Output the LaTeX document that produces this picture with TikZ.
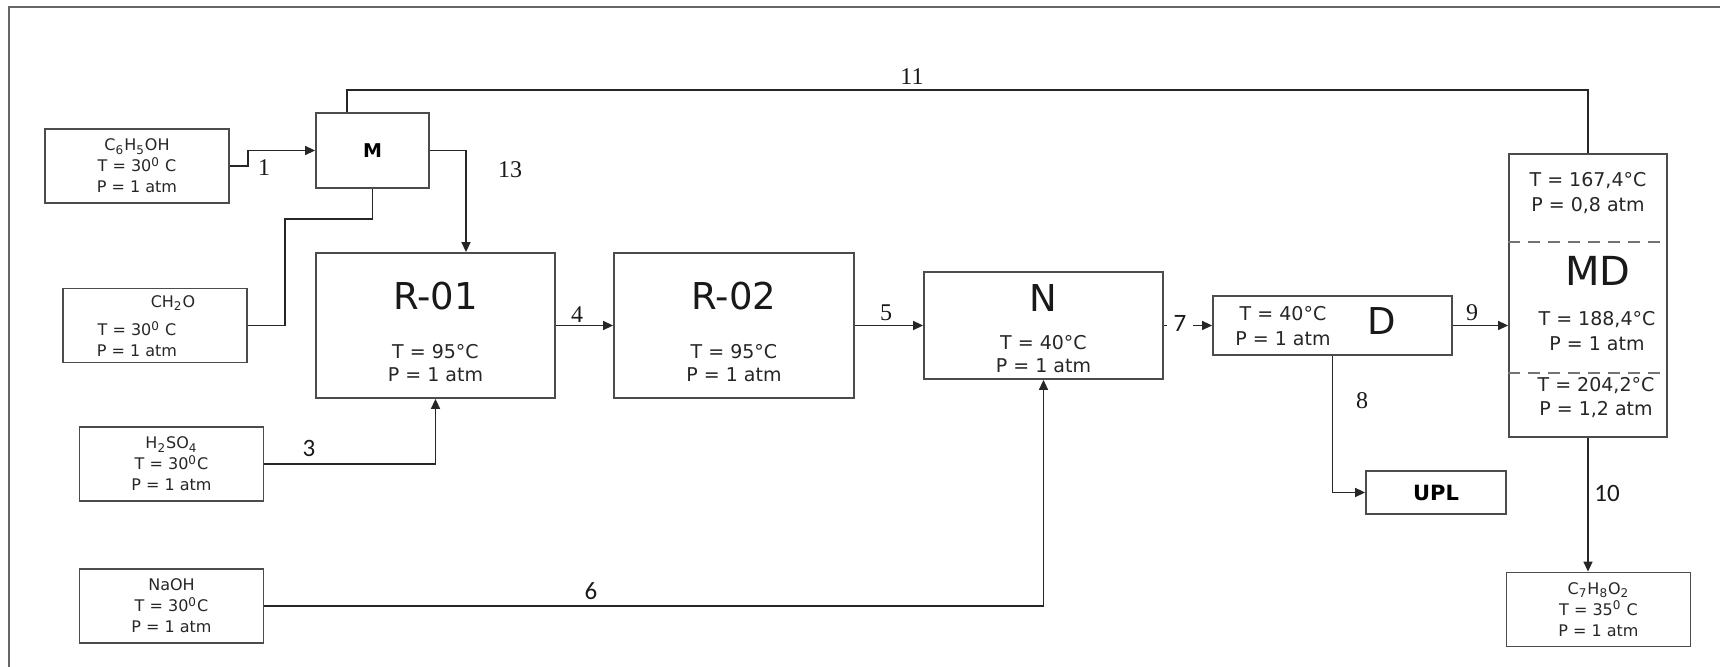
\documentclass[tikz,border=0pt]{standalone}
\usepackage{fontspec}
\setmainfont{Liberation Serif}
\setsansfont{DejaVu Sans}
\newfontfamily\calfont{Carlito}
\usepackage{tikz}
\usetikzlibrary{arrows.meta, positioning, calc}

\tikzset{
  box/.style={draw=black!70, line width=0.9pt, inner sep=0pt},
  feed/.style={box, minimum width=92pt, minimum height=37pt, align=center, text=black!85, font=\sffamily\fontsize{8}{10.5}\selectfont},
  feedtxt/.style={inner sep=0pt, align=center, text=black!85, font=\sffamily\fontsize{8}{10.5}\selectfont},
  cond/.style={inner sep=0pt, align=center, text=black!85, font=\sffamily\fontsize{9.5}{11.5}\selectfont},
  bigname/.style={inner sep=0pt, text=black!90, font=\sffamily\fontsize{18.5}{20}\selectfont},
  flow/.style={draw=black!85, line width=0.75pt, -{Triangle[length=5pt,width=4.5pt]}},
  pipe/.style={draw=black!85, line width=0.75pt},
  mdsplit/.style={draw=black!55, line width=0.9pt, dash pattern=on 6pt off 4pt},
  num/.style={inner sep=0pt, text=black!90, font=\fontsize{12}{12}\selectfont},
  snum/.style={inner sep=0pt, text=black!90, font=\calfont\fontsize{12.5}{12}\selectfont},
}

\begin{document}
\begin{tikzpicture}[x=0.5pt, y=-0.5pt]
  \useasboundingbox (0,0) rectangle (1720,667);
  \clip (0,0) rectangle (1720,667);
  \draw[black!60, line width=1pt] (9,7) rectangle (1760,700);

  % feeds
  \node[feed] (c6h5oh) at (137,166) {C\textsubscript{6}H\textsubscript{5}OH\\T = 30\textsuperscript{0} C\\P = 1 atm};
  \node[feed] (ch2o) at (155,325.5) {};
  \node[feedtxt] (ch2oname) at (173,303) {CH\textsubscript{2}O};
  \node[feedtxt] (ch2ocond) at (137,339) {T = 30\textsuperscript{0} C\\P = 1 atm};
  \node[feed] (h2so4) at (171.5,464) {H\textsubscript{2}SO\textsubscript{4}\\T = 30\textsuperscript{0}C\\P = 1 atm};
  \node[feed] (naoh) at (171.5,606) {NaOH\\T = 30\textsuperscript{0}C\\P = 1 atm};

  % units
  \node[box, minimum width=56.5pt, minimum height=37.5pt, font=\sffamily\bfseries\fontsize{9.5}{10}\selectfont] (mix) at (372.5,150.5) {M};
  \node[box, minimum width=119.5pt, minimum height=72.5pt] (r01) at (435.5,325.5) {};
  \node[bigname] (r01name) at (435.5,296) {R-01};
  \node[cond] (r01cond) at (435.5,363) {T = 95°C\\P = 1 atm};
  \node[box, minimum width=120pt, minimum height=72.5pt] (r02) at (734,325.5) {};
  \node[bigname] (r02name) at (734,296) {R-02};
  \node[cond] (r02cond) at (734,363) {T = 95°C\\P = 1 atm};
  \node[box, minimum width=119.5pt, minimum height=53.5pt] (neut) at (1043.5,325.5) {};
  \node[bigname] (neutname) at (1043.5,298) {N};
  \node[cond] (neutcond) at (1043.5,354) {T = 40°C\\P = 1 atm};
  \node[box, minimum width=119.5pt, minimum height=29.5pt] (dec) at (1332.5,325.5) {};
  \node[cond, font=\sffamily\fontsize{9.5}{12.5}\selectfont] (deccond) at (1283,326.5) {T = 40°C\\P = 1 atm};
  \node[bigname] (decname) at (1382,321) {D};
  \node[box, minimum width=79pt, minimum height=141.5pt] (md) at (1588,295.5) {};
  \draw[mdsplit] ([yshift=-44.5pt]md.north west) -- ([yshift=-44.5pt]md.north east);
  \draw[mdsplit] ([yshift=-110pt]md.north west) -- ([yshift=-110pt]md.north east);
  \node[cond, font=\sffamily\fontsize{9.5}{12.5}\selectfont] (mdtop) at (1588,193) {T = 167,4°C\\P = 0,8 atm};
  \node[bigname, font=\sffamily\fontsize{20}{22}\selectfont] (mdname) at (1598,271) {MD};
  \node[cond, font=\sffamily\fontsize{9.5}{12.5}\selectfont] (mdmid) at (1597,331) {T = 188,4°C\\P = 1 atm};
  \node[cond, font=\sffamily\fontsize{9.5}{12}\selectfont] (mdbot) at (1596,398) {T = 204,2°C\\P = 1,2 atm};
  \node[box, minimum width=70pt, minimum height=21.5pt, font=\sffamily\bfseries\fontsize{10.5}{11}\selectfont] (upl) at (1436,492.5) {UPL};
  \node[feed] (prod) at (1598.5,609.5) {C\textsubscript{7}H\textsubscript{8}O\textsubscript{2}\\T = 35\textsuperscript{0} C\\P = 1 atm};

  % streams
  \draw[flow] (c6h5oh.east) -- ++(18,0) |- (mix.west);
  \draw[pipe] (ch2o.east) -- ++(37,0) |- ($(mix.south)+(0,30)$) -- (mix.south);
  \draw[flow] (mix.east) -| ([xshift=15.25pt]r01.north);
  \draw[flow] (h2so4.east) -| (r01.south);
  \draw[flow] (r01.east) -- (r02.west);
  \draw[flow] (r02.east) -- (neut.west);
  \draw[flow] (naoh.east) -| (neut.south);
  \draw[flow] (neut.east) -- (dec.west);
  \draw[flow] (dec.south) |- (upl.west);
  \draw[flow] (dec.east) -- (dec.east -| md.west);
  \draw[flow] (md.south) -- (md.south |- prod.north);
  \draw[pipe] (md.north) -- ++(0,-63) -| ([xshift=-12.75pt]mix.north);

  % stream numbers
  \node[num] (n1) at (264,168) {1};
  \node[snum] (n3) at (309,448) {3};
  \node[num] (n4) at (577,315) {4};
  \node[num] (n5) at (886,313) {5};
  \node[snum] (n6) at (591,591) {6};
  \node[snum, fill=white, inner xsep=3.5pt, inner ysep=1.5pt] (n7) at (1180,323) {7};
  \node[num] (n8) at (1362,401) {8};
  \node[num] (n9) at (1472,313) {9};
  \node[snum] (n10) at (1607,493) {10};
  \node[num] (n11) at (912,77) {11};
  \node[num] (n13) at (510,170) {13};
\end{tikzpicture}
\end{document}
